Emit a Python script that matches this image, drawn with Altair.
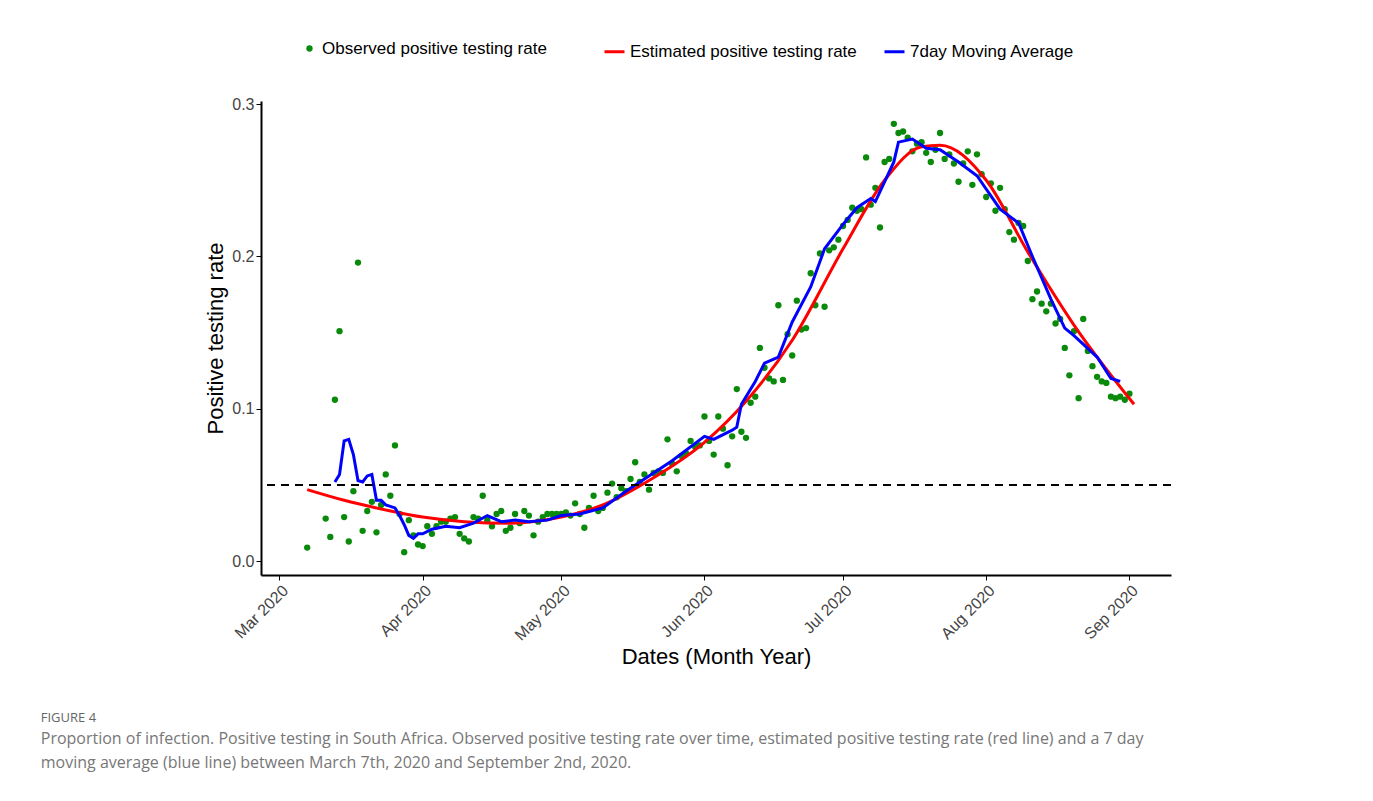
import pandas as pd
import altair as alt

obs_dates = pd.date_range("2020-03-07", "2020-09-02").strftime("%Y-%m-%d").tolist()
obs_dates = [d for d in obs_dates if d not in ("2020-03-08", "2020-03-09", "2020-03-10")]
obs_vals = [0.009, 0.028, 0.016, 0.106, 0.151, 0.029, 0.013, 0.046, 0.196, 0.020,
            0.033, 0.039, 0.019, 0.037, 0.057, 0.043, 0.076, 0.031, 0.006, 0.027,
            0.017, 0.011, 0.010, 0.023, 0.018, 0.023, 0.026, 0.026, 0.028, 0.029,
            0.018, 0.015, 0.013, 0.029, 0.028, 0.043, 0.027, 0.023, 0.031, 0.033,
            0.020, 0.022, 0.031, 0.025, 0.033, 0.030, 0.017, 0.026, 0.029, 0.031,
            0.031, 0.031, 0.031, 0.032, 0.030, 0.038, 0.031, 0.022, 0.035, 0.043,
            0.033, 0.035, 0.045, 0.051, 0.042, 0.048, 0.046, 0.054, 0.065, 0.052,
            0.057, 0.047, 0.058, 0.059, 0.058, 0.080, 0.064, 0.059, 0.069, 0.071,
            0.079, 0.075, 0.076, 0.095, 0.079, 0.070, 0.095, 0.087, 0.063, 0.082,
            0.113, 0.085, 0.081, 0.104, 0.108, 0.140, 0.127, 0.120, 0.118, 0.168,
            0.119, 0.149, 0.135, 0.171, 0.152, 0.153, 0.189, 0.168, 0.202, 0.167,
            0.204, 0.206, 0.211, 0.220, 0.224, 0.232, 0.230, 0.231, 0.265, 0.234,
            0.245, 0.219, 0.262, 0.264, 0.287, 0.281, 0.282, 0.278, 0.269, 0.274,
            0.275, 0.268, 0.262, 0.270, 0.281, 0.264, 0.267, 0.261, 0.249, 0.261,
            0.269, 0.247, 0.267, 0.254, 0.239, 0.248, 0.230, 0.245, 0.231, 0.216,
            0.211, 0.222, 0.220, 0.197, 0.172, 0.177, 0.169, 0.164, 0.169, 0.156,
            0.159, 0.140, 0.122, 0.151, 0.107, 0.159, 0.138, 0.128, 0.121, 0.118,
            0.117, 0.108, 0.107, 0.108, 0.106, 0.110]
n = min(len(obs_dates), len(obs_vals))
obs_dates, obs_vals = obs_dates[:n], obs_vals[:n]

est_dates = ["2020-03-07", "2020-03-15", "2020-03-22", "2020-04-01", "2020-04-10",
             "2020-04-20", "2020-05-01", "2020-05-10", "2020-05-20", "2020-06-01",
             "2020-06-10", "2020-06-20", "2020-07-01", "2020-07-10", "2020-07-18",
             "2020-07-22", "2020-08-01", "2020-08-10", "2020-08-20", "2020-09-02"]
est_vals = [0.047, 0.040, 0.035, 0.029, 0.026, 0.025, 0.029, 0.037, 0.053, 0.078,
            0.105, 0.145, 0.205, 0.250, 0.272, 0.273, 0.250, 0.203, 0.155, 0.103]

ma_dates = ["2020-03-13", "2020-03-14", "2020-03-15", "2020-03-16", "2020-03-17",
            "2020-03-18", "2020-03-19", "2020-03-20", "2020-03-21", "2020-03-22",
            "2020-03-23", "2020-03-24", "2020-03-25", "2020-03-26", "2020-03-27",
            "2020-03-28", "2020-03-29", "2020-03-30", "2020-03-31", "2020-04-01",
            "2020-04-03", "2020-04-06", "2020-04-09", "2020-04-12", "2020-04-15",
            "2020-04-18", "2020-04-21", "2020-04-24", "2020-04-28", "2020-05-01",
            "2020-05-05", "2020-05-10", "2020-05-15", "2020-05-20", "2020-05-25",
            "2020-06-01", "2020-06-03", "2020-06-07", "2020-06-08", "2020-06-09",
            "2020-06-12", "2020-06-14", "2020-06-17", "2020-06-20", "2020-06-24",
            "2020-06-27", "2020-07-01", "2020-07-04", "2020-07-07", "2020-07-08",
            "2020-07-12", "2020-07-13", "2020-07-16", "2020-07-19", "2020-07-22",
            "2020-07-26", "2020-07-30", "2020-08-04", "2020-08-08", "2020-08-11",
            "2020-08-15", "2020-08-18", "2020-08-20", "2020-08-25", "2020-08-28",
            "2020-08-30"]
ma_vals = [0.052, 0.057, 0.079, 0.080, 0.070, 0.053, 0.052, 0.056, 0.057, 0.040,
           0.040, 0.037, 0.036, 0.035, 0.030, 0.024, 0.017, 0.015, 0.018, 0.018,
           0.021, 0.023, 0.022, 0.025, 0.030, 0.026, 0.027, 0.026, 0.027, 0.030,
           0.031, 0.035, 0.046, 0.056, 0.066, 0.082, 0.080, 0.086, 0.088, 0.103,
           0.118, 0.130, 0.134, 0.157, 0.180, 0.205, 0.221, 0.232, 0.238, 0.236,
           0.262, 0.275, 0.277, 0.271, 0.270, 0.262, 0.253, 0.231, 0.222, 0.200,
           0.172, 0.153, 0.148, 0.134, 0.120, 0.118]

EST = "Estimated  positive testing rate"
MA = "7day Moving Average"
obs = pd.DataFrame({"date": obs_dates, "rate": obs_vals, "s": "Observed positive testing rate"})
est = pd.DataFrame({"date": est_dates, "rate": est_vals, "s": EST})
ma = pd.DataFrame({"date": ma_dates, "rate": ma_vals, "s": MA})

x = alt.X("date:T", title="Dates (Month Year)",
          scale=alt.Scale(domain=["2020-02-26", "2020-09-10"]),
          axis=alt.Axis(format="%b %Y", tickCount={"interval": "month", "step": 1},
                        labelAngle=-45, labelFontSize=16, labelColor="#444",
                        titleFontSize=22, titleFontWeight="normal", grid=False))
y = alt.Y("rate:Q", title="Positive testing rate",
          scale=alt.Scale(domain=[-0.009, 0.302], nice=False),
          axis=alt.Axis(values=[0, 0.1, 0.2, 0.3], format=".1f", labelFontSize=16,
                        labelColor="#444", titleFontSize=22, titleFontWeight="normal", grid=False))

pts = alt.Chart(obs).mark_circle(size=40, opacity=1).encode(
    x=x, y=y,
    color=alt.Color("s:N", scale=alt.Scale(range=["#0a8a0a"]),
                    legend=alt.Legend(orient="none", legendX=40, legendY=-61, title=None,
                                      labelFontSize=17, symbolSize=40, labelLimit=0)))

line_color = alt.Color("s:N", scale=alt.Scale(domain=[EST, MA], range=["#ff0000", "#0000ff"]),
                       legend=alt.Legend(orient="none", legendX=342, legendY=-61, direction="horizontal",
                                         title=None, labelFontSize=17, labelLimit=0, columnPadding=16,
                                         symbolType="stroke", symbolStrokeWidth=3, symbolSize=400))

est_line = alt.Chart(est).mark_line(strokeWidth=3, interpolate="monotone").encode(x=x, y=y, color=line_color)
ma_line = alt.Chart(ma).mark_line(strokeWidth=3).encode(x=x, y=y, color=line_color)

ref = alt.Chart(pd.DataFrame({"rate": [0.05]})).mark_rule(
    strokeDash=[8, 6], strokeWidth=2, color="black").encode(y=y)

chart = alt.layer(pts, alt.layer(est_line, ma_line), ref).resolve_scale(color="independent").properties(
    width=910, height=474,
    title=alt.TitleParams(
        "FIGURE 4",
        subtitle=["Proportion of infection. Positive testing in South Africa. Observed positive testing rate over time, estimated positive testing rate (red line) and a 7 day",
                  "moving average (blue line) between March 7th, 2020 and September 2nd, 2020."],
        orient="bottom", anchor="start", dx=-164, offset=44, fontSize=13, fontWeight="normal",
        color="#666", subtitleFontSize=16, subtitleColor="#777", subtitlePadding=6,
        font="Open Sans", subtitleFont="Open Sans", subtitleLineHeight=24),
    padding={"left": 32, "top": 32, "right": 30, "bottom": 10}
).configure_view(stroke=None).configure_axis(
    domainColor="black", domainWidth=2, tickColor="black", labelFont="Liberation Sans",
    titleFont="Liberation Sans", titleColor="black"
).configure_legend(labelFont="Liberation Sans", labelColor="black")

chart.save("out.html", embed_options={"renderer": "svg", "actions": False})
